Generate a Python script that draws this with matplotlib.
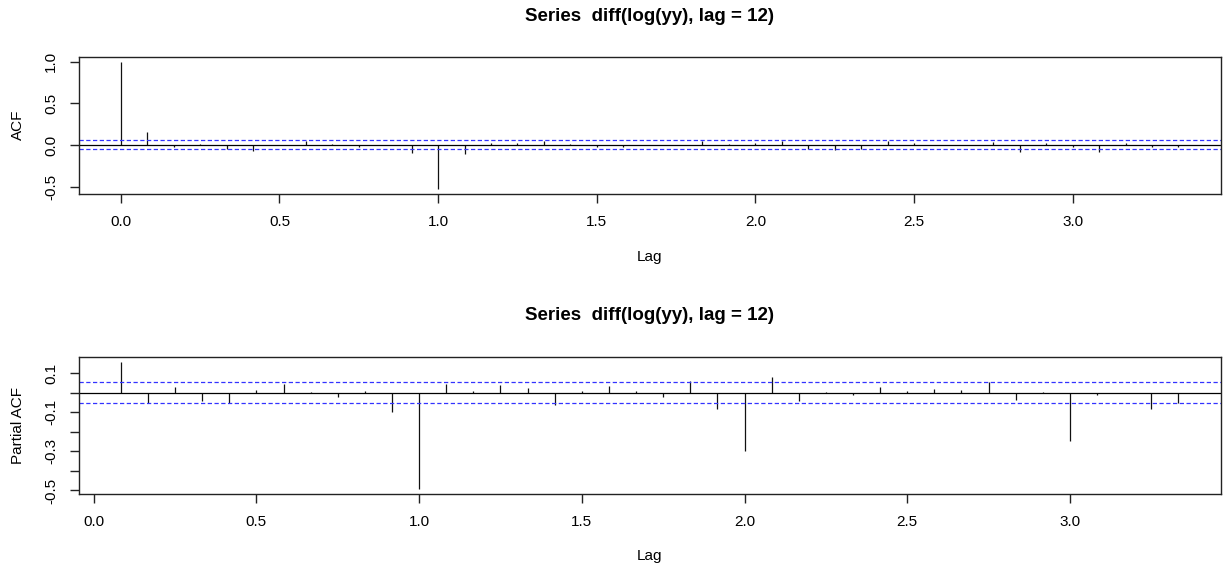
import numpy as np
import matplotlib
matplotlib.use("Agg")
import matplotlib.pyplot as plt

plt.rcParams['font.family'] = ['Liberation Sans', 'DejaVu Sans']

title_text = "Series  diff(log(yy), lag = 12)"
freq = 12
ci = 0.054

acf_values = [1.0, 0.152, -0.028, 0.012, -0.048, -0.076, 0.005, 0.052, 0.012, -0.02,
              0.004, -0.1, -0.528, -0.108, 0.02, 0.024, 0.052, 0.008, -0.02, -0.02,
              0.003, -0.003, 0.052, 0.008, 0.024, 0.052, -0.052, -0.06, -0.052, 0.052,
              0.024, 0.003, -0.003, 0.032, -0.088, 0.024, -0.02, -0.088, 0.024, -0.03,
              -0.03]
pacf_values = [0.158, -0.051, 0.027, -0.041, -0.054, 0.015, 0.044, 0.002, -0.020, 0.008,
               -0.097, -0.492, 0.044, 0.008, 0.041, 0.025, -0.063, 0.008, 0.036, 0.01,
               -0.02, 0.061, -0.083, -0.297, 0.081, -0.044, 0.002, -0.012, 0.031, 0.01,
               0.02, 0.015, 0.053, -0.036, 0.002, -0.249, -0.012, -0.002, -0.081, -0.051]

acf_lags = np.arange(len(acf_values)) / freq
pacf_lags = np.arange(1, len(pacf_values) + 1) / freq

x_ticks = [0.0, 0.5, 1.0, 1.5, 2.0, 2.5, 3.0]
acf_yticks = [-0.5, 0.0, 0.5, 1.0]
acf_ylabels = ["-0.5", "0.0", "0.5", "1.0"]
pacf_yticks = [-0.5, -0.4, -0.3, -0.2, -0.1, 0.0, 0.1]
pacf_ylabels = ["-0.5", "", "-0.3", "", "-0.1", "", "0.1"]

W, H = 1224, 572
fig = plt.figure(figsize=(W / 100, H / 100), dpi=100)

def px_axes(left, top, right, bottom):
    return fig.add_axes([left / W, 1 - bottom / H, (right - left) / W, (bottom - top) / H])

def rlim(vals):
    lo, hi = min(vals), max(vals)
    d = 0.04 * (hi - lo)
    return lo - d, hi + d

def style(ax, lags, vals, yticks, ylabels):
    ax.vlines(lags, 0, vals, colors='#111111', lw=0.9)
    ax.axhline(0, color='black', lw=0.9)
    for c in (ci, -ci):
        ax.axhline(c, color='#3333FF', lw=0.9, ls=(0, (3.4, 2.0)))
    ax.set_xlim(*rlim(list(lags)))
    ax.set_ylim(*rlim(list(vals) + [ci, -ci]))
    ax.set_xticks(x_ticks)
    ax.set_xticklabels([f"{t:.1f}" for t in x_ticks], fontsize=11)
    ax.set_yticks(yticks)
    ax.set_yticklabels(ylabels, fontsize=11, rotation=90, va='center')
    ax.tick_params(direction='out', length=6.3, width=1.0, pad=8.5, colors='#222222',
                   labelcolor='black')
    for s in ax.spines.values():
        s.set_color('#222222')
        s.set_linewidth(1.0)

ax1 = px_axes(78.5, 56.7, 1220.7, 194)
style(ax1, acf_lags, acf_values, acf_yticks, acf_ylabels)
ax2 = px_axes(78.5, 356.7, 1220.7, 494)
style(ax2, pacf_lags, pacf_values, pacf_yticks, pacf_ylabels)

cx = (78.5 + 1220.7) / 2 / W
fig.text(cx, 1 - 16.7 / H, title_text, ha='center', va='center', fontsize=13.5, fontweight='bold')
fig.text(cx, 1 - 316 / H, title_text, ha='center', va='center', fontsize=13.5, fontweight='bold')
fig.text(cx, 1 - 256.7 / H, "Lag", ha='center', va='center', fontsize=11)
fig.text(cx, 1 - 556 / H, "Lag", ha='center', va='center', fontsize=11)
fig.text(18.3 / W, 1 - 125.3 / H, "ACF", ha='center', va='center', rotation=90, fontsize=11)
fig.text(18.3 / W, 1 - 425.3 / H, "Partial ACF", ha='center', va='center', rotation=90, fontsize=11)

fig.savefig("out.png", dpi=100, facecolor='white')
